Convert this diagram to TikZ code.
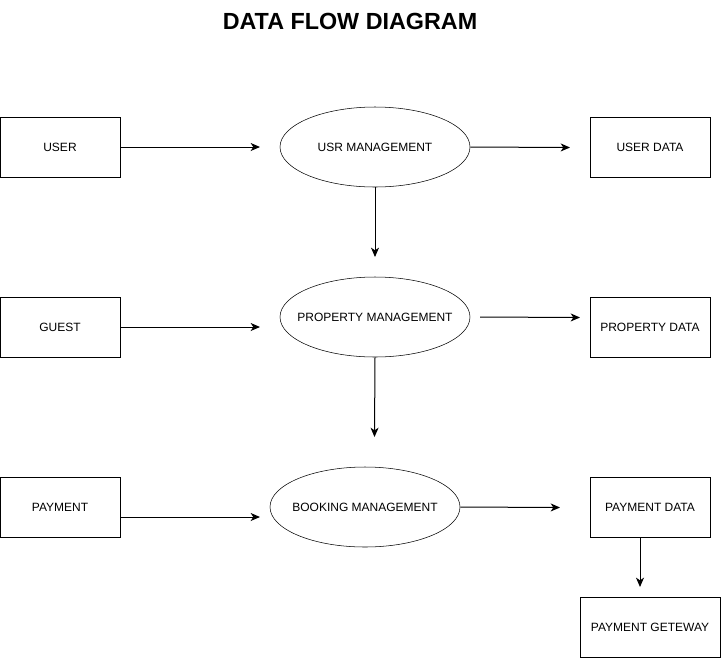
\documentclass[tikz,border=0pt]{standalone}
\usepackage{fontspec}
\setmainfont{Liberation Sans}
\usetikzlibrary{shapes.geometric,arrows.meta}

\begin{document}
\begin{tikzpicture}[x=0.75pt, y=-0.75pt,
  every node/.style={font=\fontsize{9}{11}\selectfont},
  entity/.style={draw, minimum width=90pt, minimum height=45pt, inner sep=0pt},
  process/.style={draw, ellipse, minimum width=142.5pt, minimum height=60pt, inner xsep=-15pt, inner ysep=0pt},
  flow/.style={-{Stealth[length=7pt,width=6pt,inset=2pt]}, line width=0.75pt}]
\useasboundingbox (0,0) rectangle (721,658);
\node[font=\fontsize{17.5}{21}\selectfont\bfseries] (title) at (350,21) {DATA FLOW DIAGRAM};
% sources
\node[entity] (user) at (60,147) {USER};
\node[entity] (guest) at (60,327) {GUEST};
\node[entity] (payment) at (60,507) {PAYMENT};
% processes
\node[process] (usrmgmt) at (375,147) {USR MANAGEMENT};
\node[process] (propmgmt) at (375,317) {PROPERTY MANAGEMENT};
\node[process] (bookmgmt) at (365,507) {BOOKING MANAGEMENT};
% stores
\node[entity] (userdata) at (650,147) {USER DATA};
\node[entity] (propdata) at (650,327) {PROPERTY DATA};
\node[entity] (paydata) at (650,507) {PAYMENT DATA};
\node[entity, minimum width=105pt] (gateway) at (650,627) {PAYMENT GETEWAY};
% free arrow ends
\coordinate (u1) at (260,147);
\coordinate (u2) at (570,147.5);
\coordinate (u3) at (375,257);
\coordinate (g1) at (260,327);
\coordinate (p0) at (480,317);
\coordinate (p1) at (580,317.5);
\coordinate (p2) at (374.5,437);
\coordinate (b1) at (260,517);
\coordinate (b2) at (560,507.5);
\coordinate (d1) at (640,587);
\draw[flow] (user) -- (u1);
\draw[flow] (usrmgmt.east) -- (u2);
\draw[flow] (usrmgmt.south) -- (u3);
\draw[flow] (guest) -- (g1);
\draw[flow] (p0) -- (p1);
\draw[flow] (propmgmt.south) -- (p2);
\draw[flow] (payment.east |- b1) -- (b1);
\draw[flow] (bookmgmt.east) -- (b2);
\draw[flow] (paydata.south -| d1) -- (d1);
\end{tikzpicture}
\end{document}
